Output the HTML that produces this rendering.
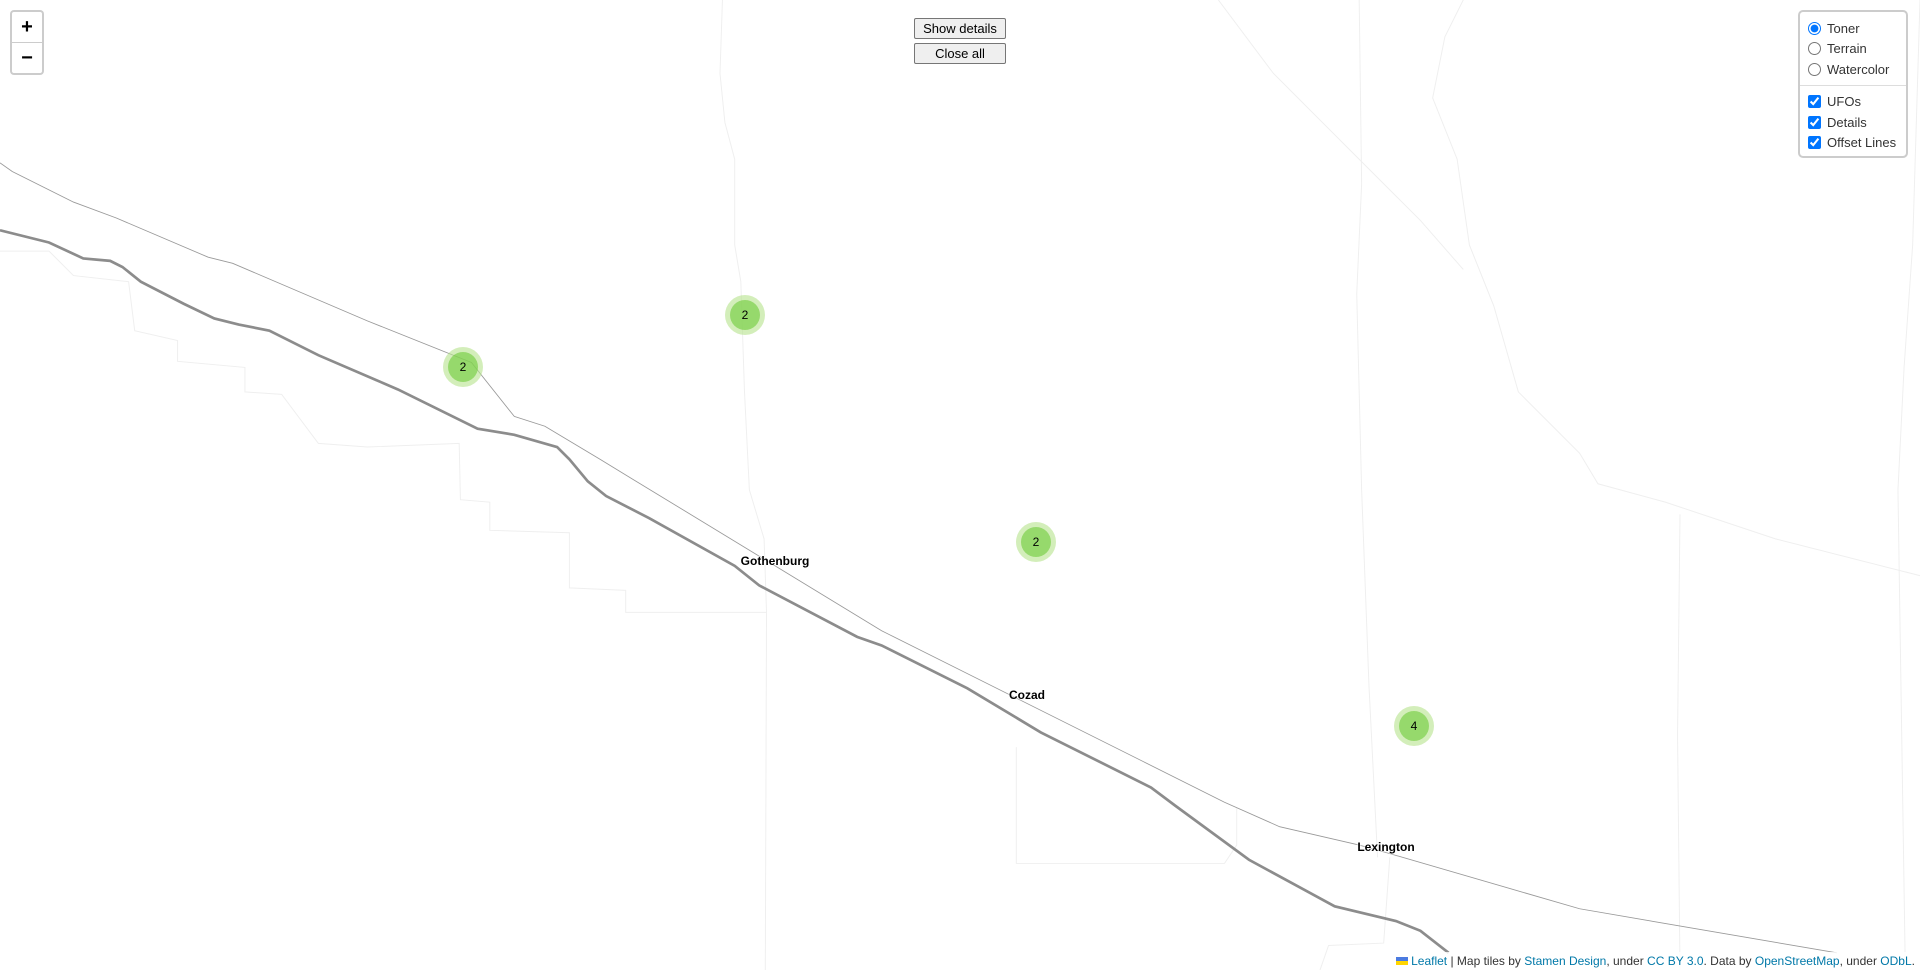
<!DOCTYPE html>
<html><head><meta charset="utf-8"><style>
body{margin:0;width:1920px;height:970px;overflow:hidden;background:#fff;font-family:"Liberation Sans",Arial,sans-serif;position:relative}
svg.map{position:absolute;left:0;top:0}
.zoom{position:absolute;left:10px;top:10px;width:30px;border:2px solid rgba(0,0,0,0.2);border-radius:4px;background:#fff}
.zoom div{height:30px;font:bold 20px "Liberation Sans",sans-serif;line-height:30px;text-align:center;color:#000}
.zoom div+div{border-top:1px solid #ccc}
.btn{position:absolute;left:914px;width:92px;height:21px;font:13px "Liberation Sans",sans-serif;background:#efefef;border:1px solid #767676;border-radius:2px;padding:0;text-align:center}
.layers{position:absolute;left:1798px;top:10px;width:106px;height:144px;background:#fff;border:2px solid rgba(0,0,0,0.2);border-radius:5px;font:13px "Liberation Sans",sans-serif;color:#333}
.layers label{display:flex;align-items:center;height:20.5px;padding-left:8px}
.layers input{margin:0 6px 0 0;width:13px;height:13px}
.sep{border-top:1px solid #ddd;margin:5px 0 6px}
.cl{position:absolute;width:40px;height:40px;border-radius:50%;background:rgba(181,226,140,0.6)}
.cl div{position:absolute;left:5px;top:5px;width:30px;height:30px;border-radius:50%;background:rgba(110,204,57,0.6);font:12px "Liberation Sans",sans-serif;line-height:30px;text-align:center;color:#000}
.town{position:absolute;font:bold 12px "Liberation Sans",sans-serif;color:#000;transform:translate(-50%,-50%);text-shadow:0 0 2px #fff,0 0 2px #fff}
.attr{position:absolute;right:0;bottom:0;background:rgba(255,255,255,0.8);font:12px "Liberation Sans",sans-serif;color:#333;padding:0 5px;height:18px;line-height:18px}
.attr a{color:#0078a8;text-decoration:none}
</style></head><body>
<svg class="map" width="1920" height="970" viewBox="0 0 1568 792" preserveAspectRatio="none">
<g fill="none" stroke="#efefef" stroke-width="0.8">
<path d="M590,0 L588,60 L592,100 L600,130 L600,200 L605,230 L608,320 L612,400 L624,440 L626,500 L625,792"/>
<path d="M1110,0 L1112,150 L1108,240 L1112,400 L1118,560 L1125,700"/>
<path d="M1195,0 L1180,30 L1170,80 L1190,130 L1200,200 L1220,250 L1240,320 L1290,370 L1305,395 L1360,410 L1450,440 L1568,470"/>
<path d="M1568,0 L1562,200 L1555,300 L1550,400 L1556,792"/>
<path d="M1372,420 L1370,600 L1372,792"/>
<path d="M0,205 L40,205 L60,225 L105,230 L110,270 L145,278 L145,295 L200,300 L200,320 L230,322 L260,362 L300,365 L375,362 L376,408 L400,410 L400,433 L465,435 L465,480 L511,482 L511,500 L626,500"/>
<path d="M995,0 L1040,60 L1110,130 L1160,180 L1195,220"/>
<path d="M830,610 L830,705 L1000,705 L1010,690 L1010,660"/>
<path d="M1135,700 L1130,770 L1085,772 L1078,792"/>
</g>
<path d="M0,133 L10,140 L60,165 L95,178 L170,210 L190,215 L300,262 L385,296 L420,340 L445,348 L490,375 L720,515 L1000,655 L1045,675 L1110,690 L1135,697 L1290,742 L1500,778" fill="none" stroke="#999" stroke-width="0.7"/>
<path d="M0,188 L40,198 L68,211 L90,213 L100,218 L115,230 L150,248 L175,260 L195,265 L220,270 L260,290 L325,318 L390,350 L420,355 L455,365 L465,375 L480,393 L495,405 L530,423 L600,462 L620,478 L700,520 L720,527 L790,562 L850,598 L940,643 L960,658 L1020,702 L1090,740 L1140,752 L1160,760 L1183,778" fill="none" stroke="#8c8c8c" stroke-width="2.2"/>
</svg>
<div class="zoom"><div>+</div><div>−</div></div>
<button class="btn" style="top:18px">Show details</button>
<button class="btn" style="top:43px">Close all</button>
<div class="layers">
<div style="height:6px"></div>
<label><input type="radio" name="b" checked>Toner</label>
<label><input type="radio" name="b">Terrain</label>
<label><input type="radio" name="b">Watercolor</label>
<div class="sep"></div>
<label><input type="checkbox" checked>UFOs</label>
<label><input type="checkbox" checked>Details</label>
<label><input type="checkbox" checked>Offset Lines</label>
</div>
<div class="cl" style="left:443px;top:347px"><div>2</div></div>
<div class="cl" style="left:725px;top:295px"><div>2</div></div>
<div class="cl" style="left:1016px;top:522px"><div>2</div></div>
<div class="cl" style="left:1394px;top:706px"><div>4</div></div>
<div class="town" style="left:775px;top:561px">Gothenburg</div>
<div class="town" style="left:1027px;top:695px">Cozad</div>
<div class="town" style="left:1386px;top:847px">Lexington</div>
<div class="attr"><span style="display:inline-block;width:12px;height:8px;background:linear-gradient(#4c7be0 50%,#ffd500 50%);margin-right:3px"></span><a>Leaflet</a> | Map tiles by <a>Stamen Design</a>, under <a>CC BY 3.0</a>. Data by <a>OpenStreetMap</a>, under <a>ODbL</a>.</div>
</body></html>
